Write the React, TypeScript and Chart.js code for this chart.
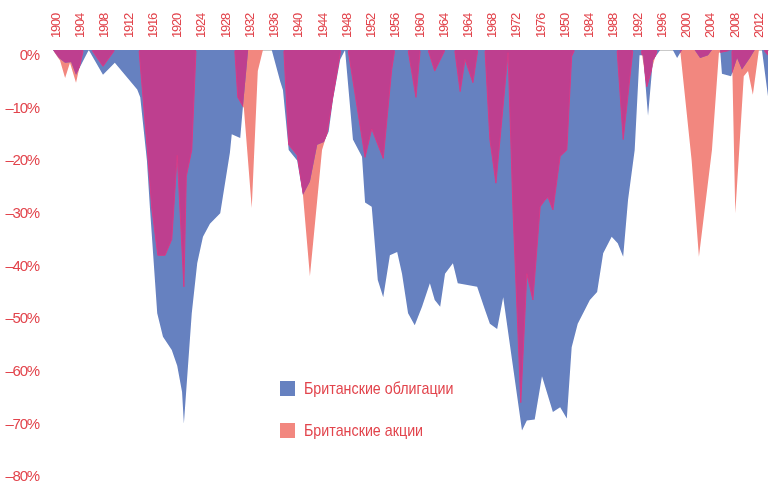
import React, { useEffect, useRef } from 'react';
import { Chart, registerables } from 'chart.js';

Chart.register(...registerables);

// Axis tick labels, one every 4 years (as printed on the original)
const tickLabels = [
  '1900', '1904', '1908', '1912', '1916', '1920', '1924', '1928', '1932', '1936',
  '1940', '1944', '1948', '1952', '1956', '1960', '1964', '1964', '1968', '1972',
  '1976', '1950', '1984', '1988', '1992', '1996', '2000', '2004', '2008', '2012',
];

const seriesNames = ['Британские облигации', 'Британские акции'];

// UK bonds drawdown: turning points (time, %)
const bondsTime = [
  1900.0, 1901.0, 1902.0, 1903.0, 1903.8, 1905.0, 1905.9, 1908.25, 1910.2, 1913.9,
  1914.4, 1915.5, 1916.0, 1917.2, 1918.15, 1919.6, 1920.5, 1921.3, 1921.6, 1922.9,
  1923.8, 1924.75, 1925.9, 1927.6, 1929.2, 1929.5, 1930.9, 1931.35, 1932.2, 1936.1,
  1937.5, 1937.95, 1938.9, 1940.3, 1941.25, 1942.4, 1943.6, 1944.7, 1945.5, 1946.2,
  1947.4, 1948.2, 1949.5, 1951.0, 1951.5, 1952.6, 1953.6, 1954.5, 1955.6, 1956.8,
  1957.6, 1958.6, 1959.7, 1960.9, 1962.2, 1963.0, 1963.9, 1964.7, 1966.0, 1966.8,
  1970.0, 1971.3, 1972.1, 1973.3, 1974.3, 1977.4, 1978.2, 1979.5, 1980.7, 1982.5,
  1983.7, 1984.8, 1985.6, 1986.6, 1988.6, 1989.8, 1990.8, 1992.2, 1993.2, 1994.1,
  1994.9, 1996.0, 1996.8, 1997.4, 1998.2, 1999.0, 2000.2, 2002.3, 2003.0, 2003.8,
  2005.9, 2006.8, 2008.1, 2008.75, 2010.1, 2010.4, 2011.9, 2012.2, 2012.9, 2013.7,
  2015.0, 2015.8, 2017.0, 2018.0,
];
const bondsDrawdown = [
  0, -1.5, -2.4, -2.3, -4.7, -2, 0, -4.7, -2.4, -7.5,
  -9, -21, -30, -50, -54.5, -57, -60, -65, -71, -50,
  -40.5, -35.5, -33, -31, -19.5, -16, -16.7, -10.7, 0, 0,
  -6, -7.6, -19, -21, -27.5, -25, -18, -17.5, -15.5, -9.4,
  -1.8, 0, -17, -20.3, -29, -29.8, -43.7, -47, -39, -38.4,
  -42.5, -50, -52.3, -48.8, -44.3, -47.5, -48.8, -42.5, -40.5, -44.3,
  -45, -49.4, -52, -53, -47, -72.3, -70.4, -70.2, -62, -68.8,
  -67.9, -70, -56.5, -52, -47.5, -46, -38.6, -35.5, -36.7, -39.3,
  -28.5, -19, -1, -1, -12.5, -2, 0, 0, -1.5, 0,
  0, -1.5, -1, 0, 0, -4.5, -5, -4, -1.5, -3.7,
  -1.5, 0, 0, -8.8,
];

// UK stocks drawdown: turning points (time, %)
const stocksTime = [
  1900.0, 1900.66, 1901.16, 1902.0, 1902.8, 1903.8, 1905.0, 1906.4, 1908.25, 1910.2,
  1914.2, 1915.5, 1916.3, 1917.3, 1918.5, 1919.6, 1920.5, 1921.6, 1922.0, 1922.9,
  1923.6, 1930.0, 1930.5, 1931.5, 1932.8, 1933.8, 1934.65, 1938.1, 1938.9, 1940.3,
  1941.25, 1942.4, 1944.4, 1945.2, 1947.5, 1948.7, 1951.5, 1952.6, 1954.5, 1955.9,
  1956.4, 1958.6, 1959.9, 1960.6, 1961.9, 1963.0, 1964.7, 1966.3, 1967.2, 1968.0,
  1969.3, 1970.1, 1971.3, 1972.1, 1973.1, 1975.1, 1975.9, 1977.2, 1978.2, 1979.2,
  1980.4, 1981.2, 1981.7, 1982.5, 1983.7, 1984.8, 1985.6, 1986.1, 1993.1, 1994.1,
  1995.7, 1997.1, 1998.0, 1999.7, 2003.5, 2005.4, 2006.6, 2008.75, 2009.9, 2012.05,
  2012.6, 2013.2, 2014.0, 2014.7, 2015.5, 2016.5, 2017.3, 2018.0,
];
const stocksDrawdown = [
  0, -1.2, -2, -5.3, -2.4, -6.2, 0, 0, -3.1, 0,
  0, -18, -30, -39, -39, -36, -20, -45, -24, -19,
  0, 0, -9, -11, -30, -4, 0, 0, -18, -20,
  -27.5, -43, -19, -16, 0, 0, -20.4, -15, -20.6, -3.7,
  0, 0, -9, 0, 0, -4, 0, 0, -7.9, -1.8,
  -6.2, 0, 0, -17, -25.3, -0.5, -30, -67, -42.5, -47.5,
  -29.8, -28.5, -28, -30.4, -20.2, -19, -1.2, 0, 0, -17,
  0, 0, -7, 0, 0, -21, -39.3, -19, -0.5, 0,
  -31, -20, -5, -4, -8.5, 0, 0, -1,
];

const BLUE = '#6681C0';
const SALMON = '#F2877F';
const OVERLAP = '#BE3F8F';
const EDGE = '#D93A86';
const TEXT = '#E2444C';
const FONT = "'Liberation Sans', Arial, sans-serif";

const overlapPlugin = {
  id: 'overlap',
  beforeDraw(chart: any) {
    chart.ctx.letterSpacing = '-1.2px';
  },
  afterDatasetsDraw(chart: any) {
    const mb = chart.getDatasetMeta(0);
    const ms = chart.getDatasetMeta(1);
    if (mb.data.length && ms.data.length) {
      const y0 = chart.scales.y.getPixelForValue(0);
      const area = (pts: any[]) => {
        const p = new Path2D();
        p.moveTo(pts[0].x, y0);
        for (const pt of pts) p.lineTo(pt.x, pt.y);
        p.lineTo(pts[pts.length - 1].x, y0);
        p.closePath();
        return p;
      };
      const line = (pts: any[]) => {
        const p = new Path2D();
        pts.forEach((pt, i) => (i === 0 ? p.moveTo(pt.x, pt.y) : p.lineTo(pt.x, pt.y)));
        return p;
      };
      const ctx = chart.ctx;
      const ca = chart.chartArea;
      ctx.save();
      ctx.beginPath();
      ctx.rect(ca.left, ca.top, ca.right - ca.left, ca.bottom - ca.top);
      ctx.clip();
      ctx.clip(area(mb.data));
      ctx.fillStyle = OVERLAP;
      ctx.fill(area(ms.data));
      ctx.beginPath();
      ctx.rect(ca.left, y0 + 1, ca.right - ca.left, ca.bottom - y0);
      ctx.clip();
      ctx.strokeStyle = EDGE;
      ctx.lineWidth = 1;
      ctx.stroke(line(ms.data));
      ctx.restore();
    }
    // x-axis labels (drawn in the next layer) are a little tighter
    chart.ctx.letterSpacing = '-1.1px';
  },
  afterDraw(chart: any) {
    chart.ctx.letterSpacing = '0px';
  },
};

export default function App() {
  const ref = useRef<HTMLCanvasElement | null>(null);

  useEffect(() => {
    if (!ref.current) return;
    const chart = new Chart(ref.current, {
      type: 'line',
      data: {
        datasets: [
          {
            label: seriesNames[0],
            data: bondsTime.map((t, i) => ({ x: t, y: bondsDrawdown[i] })),
            backgroundColor: BLUE,
            borderColor: 'transparent',
            borderWidth: 0,
            pointRadius: 0,
            tension: 0,
            fill: 'origin',
          },
          {
            label: seriesNames[1],
            data: stocksTime.map((t, i) => ({ x: t, y: stocksDrawdown[i] })),
            backgroundColor: SALMON,
            borderColor: 'transparent',
            borderWidth: 0,
            pointRadius: 0,
            tension: 0,
            fill: 'origin',
          },
        ],
      },
      options: {
        animation: false,
        responsive: false,
        devicePixelRatio: 1,
        layout: { padding: { top: 0, left: 0, right: 2, bottom: 12 } },
        plugins: {
          legend: { display: false },
          tooltip: { enabled: false },
        },
        scales: {
          x: {
            type: 'linear',
            position: 'top',
            min: 1900,
            max: 2018,
            z: 1,
            grid: { display: false, drawTicks: false },
            border: { display: true, color: '#C9C9C9', width: 1 },
            ticks: {
              stepSize: 4,
              includeBounds: false,
              autoSkip: false,
              minRotation: 90,
              maxRotation: 90,
              padding: 12,
              labelOffset: 19,
              color: TEXT,
              font: { family: FONT, size: 13 },
              callback: (v: any) => {
                const k = (Number(v) - 1900) / 4;
                return Number.isInteger(k) && tickLabels[k] ? tickLabels[k] : null;
              },
            },
            afterFit: (s: any) => {
              s.height = 50;
              s.paddingLeft = 0;
              s.paddingRight = 0;
            },
          },
          y: {
            min: -80,
            max: 0,
            grid: { display: false, drawTicks: false },
            border: { display: false },
            ticks: {
              stepSize: 10,
              padding: 14,
              labelOffset: 6,
              color: TEXT,
              font: { family: FONT, size: 15 },
              callback: (v: any) => (Number(v) === 0 ? '0%' : '\u2013' + Math.abs(Number(v)) + '%'),
            },
            afterFit: (s: any) => {
              s.width = 53;
              s.paddingTop = 0;
              s.paddingBottom = 0;
            },
          },
        },
      },
      plugins: [overlapPlugin],
    });
    return () => chart.destroy();
  }, []);

  const legendItem = (color: string, name: string, top: number) => (
    <div style={{ position: 'absolute', left: 280, top, height: 17, display: 'flex', alignItems: 'center' }}>
      <div style={{ width: 15, height: 15, background: color, flex: 'none' }} />
      <span
        style={{
          marginLeft: 9,
          display: 'inline-block',
          fontFamily: FONT,
          fontSize: 17,
          lineHeight: '17px',
          color: TEXT,
          whiteSpace: 'nowrap',
          transform: 'scaleX(0.84)',
          transformOrigin: 'left center',
        }}
      >
        {name}
      </span>
    </div>
  );

  return (
    <div style={{ position: 'fixed', left: 0, top: 0, width: 770, height: 483, background: '#fff' }}>
      <canvas ref={ref} width={770} height={483} style={{ display: 'block', width: 770, height: 483 }} />
      {legendItem(BLUE, seriesNames[0], 380)}
      {legendItem(SALMON, seriesNames[1], 422)}
    </div>
  );
}
